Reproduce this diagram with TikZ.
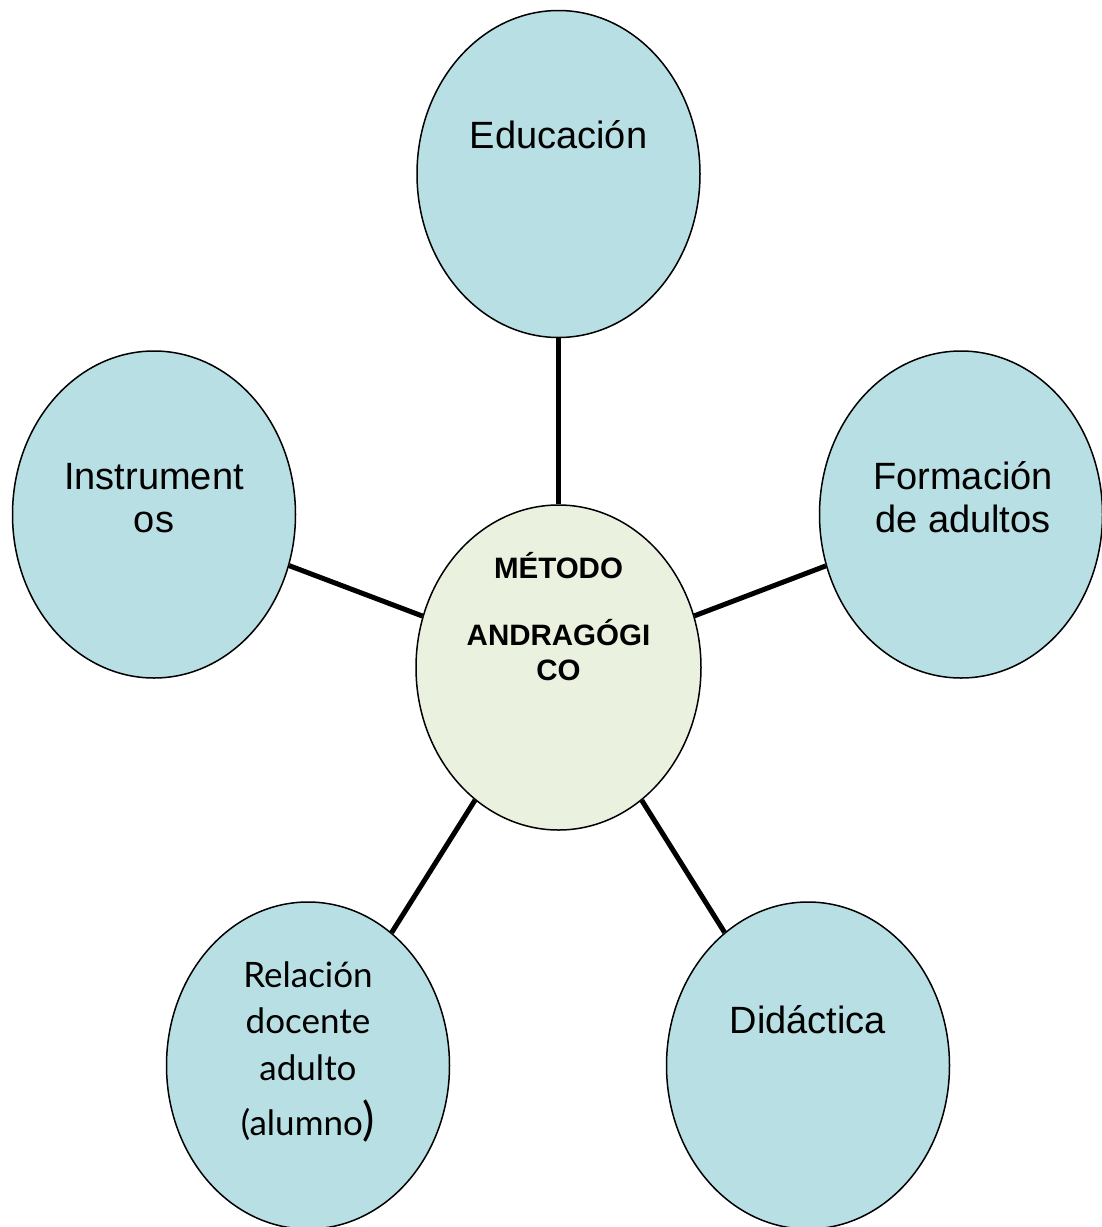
\documentclass[tikz,border=0pt]{standalone}
\usepackage{fontspec}
\setmainfont{Liberation Sans}
\newfontfamily\relfont{Lato}
\usetikzlibrary{shapes.geometric}
\definecolor{outerfill}{HTML}{B8DFE3}
\definecolor{centerfill}{HTML}{EAF1DE}
\tikzset{
  bubble/.style={ellipse, draw=black, line width=1.5pt, fill=outerfill,
    minimum width=283pt, minimum height=327pt, inner sep=0pt},
  hub/.style={bubble, fill=centerfill, minimum width=285pt, minimum height=325pt},
  link/.style={line width=5pt, draw=black},
  lbl/.style={anchor=base, inner sep=0pt, font=\fontsize{38}{44}\selectfont},
  rlbl/.style={anchor=base, inner sep=0pt, font=\relfont\fontsize{35}{47}\selectfont},
  hlbl/.style={anchor=base, inner sep=0pt, font=\bfseries\fontsize{29.5}{34}\selectfont}
}
\begin{document}
\begin{tikzpicture}[x=1pt,y=-1pt]
\useasboundingbox (0,0) rectangle (1102,1227);
\node[hub] (c) at (558.5,667.5) {};
\node[bubble] (edu) at (558.5,174) {};
\node[bubble] (form) at (961,514.5) {};
\node[bubble] (inst) at (154,514.5) {};
\node[bubble] (rel) at (308,1065.5) {};
\node[bubble] (did) at (808,1065.5) {};
\draw[link] (c) -- (edu);
\draw[link] (c) -- (form);
\draw[link] (c) -- (inst);
\draw[link] (c) -- (rel);
\draw[link] (c) -- (did);
% labels
\node[lbl] (tedu) at (558.5,148) {Educación};
\node[lbl] (tform1) at (963,489) {Formación};
\node[lbl] (tform2) at (963,532) {de adultos};
\node[lbl] (tinst1) at (154,489) {Instrument};
\node[lbl] (tinst2) at (154,532) {os};
\node[lbl] (tdid) at (808,1033) {Didáctica};
\node[rlbl] (trel1) at (308,987) {Relación};
\node[rlbl] (trel2) at (308,1033) {docente};
\node[rlbl] (trel3) at (308,1080) {adulto};
\node[rlbl] (trel4) at (308,1135) {(alumno{\fontsize{46}{47}\selectfont)}};
\node[hlbl] (tc1) at (558.5,578) {MÉTODO};
\node[hlbl] (tc2) at (558.5,645) {ANDRAGÓGI};
\node[hlbl] (tc3) at (558.5,680) {CO};
\end{tikzpicture}
\end{document}
